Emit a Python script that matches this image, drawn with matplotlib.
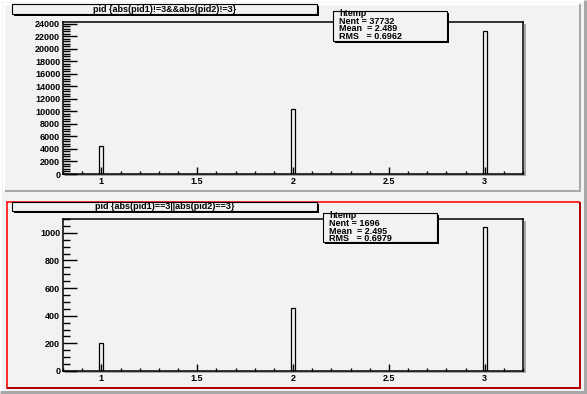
import matplotlib
matplotlib.use('Agg')
import matplotlib.pyplot as plt
from matplotlib.patches import Rectangle
from matplotlib.lines import Line2D
from matplotlib.transforms import Affine2D
from matplotlib.ticker import MultipleLocator

# data (pid value -> entries)
pid_bins = [1, 2, 3]
counts_top = [4429, 10423, 22880]
counts_bottom = [201, 454, 1041]

title_top = "pid {abs(pid1)!=3&&abs(pid2)!=3}"
title_bottom = "pid {abs(pid1)==3||abs(pid2)==3}"
stats_top = ["htemp", "Nent = 37732", "Mean  = 2.489", "RMS   = 0.6962"]
stats_bottom = ["htemp", "Nent = 1696", "Mean  = 2.495", "RMS   = 0.6979"]

W, H = 587, 394
bg = '#f2f2f2'
font = 'Liberation Sans'

fig = plt.figure(figsize=(W / 100, H / 100), dpi=100, facecolor=bg)
# pixel coordinates, origin top-left
px = Affine2D().scale(1 / W, -1 / H).translate(0, 1) + fig.transFigure


def line(x, y, color, lw, z=1):
    fig.add_artist(Line2D(x, y, color=color, lw=lw * 0.72, transform=px,
                          zorder=z, solid_capstyle='butt'))


def box(x0, y0, x1, y1, z=5):
    # black box with drop shadow, like the ROOT title / stats panes
    fig.add_artist(Rectangle((x0 + 2, y0 + 2), x1 - x0, y1 - y0, facecolor='black',
                             edgecolor='none', transform=px, zorder=z))
    fig.add_artist(Rectangle((x0, y0), x1 - x0, y1 - y0, facecolor=bg,
                             edgecolor='black', lw=0.8, transform=px, zorder=z + 0.1))


def pixrect(x0, y0, x1, y1):
    return [x0 / W, 1 - y1 / H, (x1 - x0) / W, (y1 - y0) / H]


# canvas border
line([0, W], [1, 1], 'white', 2)
line([1, 1], [0, H], 'white', 2)
line([W - 2, W - 2], [0, H], '#a8a8a8', 3)
line([0, W], [H - 1.5, H - 1.5], '#a8a8a8', 3)

# top pad border
line([4, 580], [4, 4], 'white', 2)
line([4, 4], [4, 191], 'white', 2)
line([580, 580], [4, 192], '#a8a8a8', 2)
line([5, 581], [191, 191], '#a8a8a8', 2)

# bottom pad border (selected pad, red)
line([6, 580], [202, 202], '#ff3333', 2)
line([7, 7], [201, 389], '#ff3333', 2)
line([580, 580], [202, 389], '#b40000', 2)
line([7, 581], [388, 388], '#b40000', 2)


def draw_hist(frame, counts, ymax, major, minor):
    x0, y0, x1, y1 = frame
    # frame shadow
    line([x1 + 1.5, x1 + 1.5], [y0 + 2, y1 + 2], '#a8a8a8', 2, z=2)
    line([x0 + 2, x1 + 2], [y1 + 1.5, y1 + 1.5], '#a8a8a8', 2, z=2)
    ax = fig.add_axes(pixrect(x0, y0, x1, y1), zorder=3)
    ax.set_facecolor('none')
    ax.bar(pid_bins, counts, width=0.02, fill=False, edgecolor='black', linewidth=0.9)
    ax.set_xlim(0.8, 3.2)
    ax.set_ylim(0, ymax)
    ax.xaxis.set_minor_locator(MultipleLocator(0.1))
    ax.yaxis.set_major_locator(MultipleLocator(major))
    ax.yaxis.set_minor_locator(MultipleLocator(minor))
    ax.set_xticks([1, 1.5, 2, 2.5, 3])
    ax.set_xticklabels(['1', '1.5', '2', '2.5', '3'])
    for s in ax.spines.values():
        s.set_linewidth(1.1)
    ax.tick_params(axis='y', which='major', direction='in', length=10, width=1, pad=2)
    ax.tick_params(axis='y', which='minor', direction='in', length=5, width=1)
    ax.tick_params(axis='x', which='major', direction='in', length=5, width=1, pad=2)
    ax.tick_params(axis='x', which='minor', direction='in', length=2.5, width=1)
    for lab in ax.get_xticklabels() + ax.get_yticklabels():
        lab.set_fontfamily(font)
        lab.set_fontweight('bold')
        lab.set_fontsize(6.5)
    return ax


draw_hist((63, 22, 523, 174), counts_top, 24250, 2000, 400)
draw_hist((63, 219, 523, 371), counts_bottom, 1100, 200, 50)

# title boxes
box(12, 4, 317, 14)
fig.text(164.5, 9.5, title_top, transform=px, ha='center', va='center',
         fontsize=6.5, fontweight='bold', family=font, zorder=6)
box(12, 202, 317, 211)
fig.text(164.5, 206.5, title_bottom, transform=px, ha='center', va='center',
         fontsize=6.5, fontweight='bold', family=font, zorder=6)

# stats boxes
box(333, 11, 447, 41)
fig.text(339, 9.5, "\n".join(stats_top), transform=px, ha='left', va='top',
         fontsize=6.5, fontweight='bold', family=font, zorder=6, linespacing=0.78)
box(323, 213, 437, 242)
fig.text(329, 211.5, "\n".join(stats_bottom), transform=px, ha='left', va='top',
         fontsize=6.5, fontweight='bold', family=font, zorder=6, linespacing=0.8)

fig.savefig('out.png', dpi=100, facecolor=bg)
